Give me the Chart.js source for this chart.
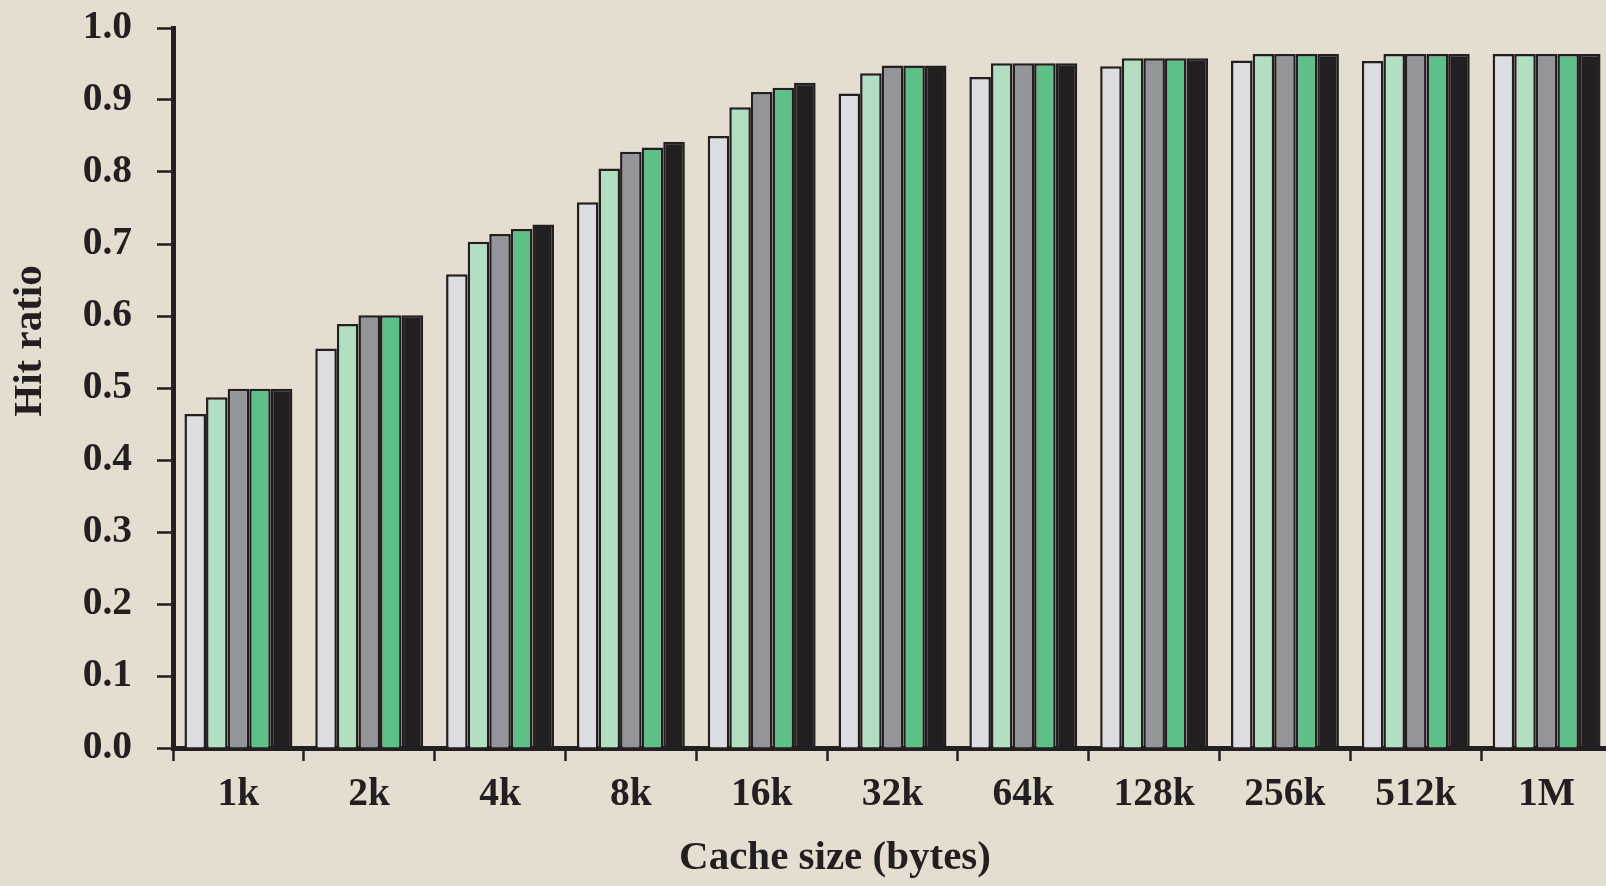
<!DOCTYPE html>
<html>
<head>
<meta charset="utf-8">
<script src="https://cdn.jsdelivr.net/npm/chart.js@4/dist/chart.umd.min.js"></script>
<style>
  html, body { margin: 0; padding: 0; overflow: hidden; background: #e5ddd0; }
  body { width: 1606px; height: 886px; position: relative; }
  #c { position: absolute; left: 0; top: 0; }
</style>
</head>
<body>
<canvas id="c" width="1614" height="886"></canvas>
<script>
// ---- data ----
const categories = ['1k', '2k', '4k', '8k', '16k', '32k', '64k', '128k', '256k', '512k', '1M'];
const yTickLabels = ['0.0', '0.1', '0.2', '0.3', '0.4', '0.5', '0.6', '0.7', '0.8', '0.9', '1.0'];
const series1 = [0.464, 0.555, 0.658, 0.758, 0.850, 0.909, 0.932, 0.947, 0.955, 0.954, 0.964];
const series2 = [0.487, 0.589, 0.703, 0.805, 0.890, 0.937, 0.951, 0.958, 0.964, 0.964, 0.964];
const series3 = [0.499, 0.601, 0.714, 0.828, 0.911, 0.948, 0.951, 0.958, 0.964, 0.964, 0.964];
const series4 = [0.499, 0.601, 0.721, 0.834, 0.917, 0.948, 0.951, 0.958, 0.964, 0.964, 0.964];
const series5 = [0.499, 0.601, 0.727, 0.842, 0.924, 0.948, 0.951, 0.958, 0.964, 0.964, 0.964];
const xTitle = 'Cache size (bytes)';
const yTitle = 'Hit ratio';

// ---- styles ----
const INK = '#231f20';
const colors = ['#dcdde0', '#b2dfc1', '#939598', '#5ebf88', '#231f20'];
const FONT = '"Liberation Serif", "Times New Roman", serif';

const titlePlugin = {
  id: 'axisTitles',
  afterDraw(chart) {
    const ctx = chart.ctx;
    ctx.save();
    ctx.fillStyle = INK;
    ctx.font = 'bold 41px ' + FONT;
    ctx.textAlign = 'center';
    ctx.textBaseline = 'alphabetic';
    ctx.fillText(xTitle, 835, 869);
    ctx.translate(41, 341);
    ctx.rotate(-Math.PI / 2);
    ctx.fillText(yTitle, 0, 0);
    ctx.restore();
  }
};

const seriesList = [series1, series2, series3, series4, series5];
new Chart(document.getElementById('c'), {
  type: 'bar',
  data: {
    labels: categories,
    datasets: seriesList.map((s, i) => ({
      label: 'S' + (i + 1),
      data: s,
      backgroundColor: colors[i],
      borderColor: INK,
      borderWidth: 2.5,
      borderSkipped: 'bottom',
      categoryPercentage: 0.825,
      barPercentage: 1.0
    }))
  },
  options: {
    responsive: false,
    animation: false,
    devicePixelRatio: 1,
    layout: { padding: { top: 28, right: 2, left: 0, bottom: 0 } },
    plugins: { legend: { display: false }, tooltip: { enabled: false } },
    scales: {
      x: {
        grid: { display: true, drawOnChartArea: false, drawTicks: true, tickLength: 13, tickWidth: 2.5, tickColor: INK, offset: true },
        border: { display: true, color: INK, width: 5 },
        ticks: { color: INK, font: { family: FONT, size: 39.5, weight: 'bold' }, padding: 10, maxRotation: 0 },
        afterFit(scale) { scale.height = 138; scale.paddingLeft = 0; scale.paddingRight = 0; }
      },
      y: {
        min: 0, max: 1,
        grid: { display: true, drawOnChartArea: false, drawTicks: true, tickLength: 16, tickWidth: 2.5, tickColor: INK },
        border: { display: true, color: INK, width: 5 },
        ticks: {
          stepSize: 0.1, color: INK, font: { family: FONT, size: 39.5, weight: 'bold' }, padding: 25,
          callback: (v, i) => yTickLabels[i]
        },
        afterFit(scale) { scale.width = 173; scale.paddingTop = 0; scale.paddingBottom = 0; }
      }
    }
  },
  plugins: [titlePlugin]
});
</script>
</body>
</html>
